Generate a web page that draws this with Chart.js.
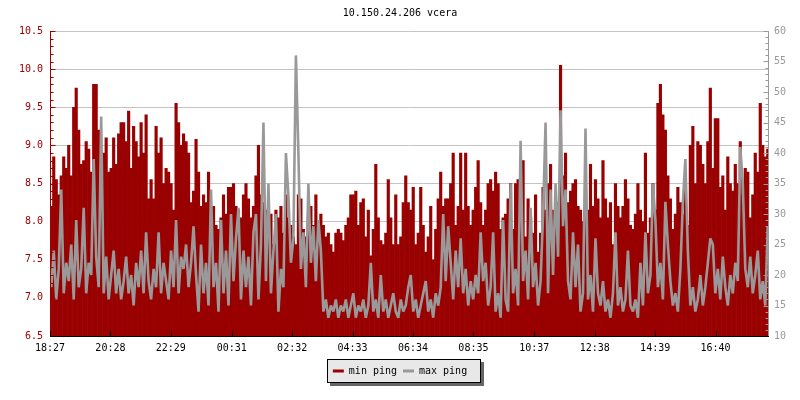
<!DOCTYPE html>
<html>
<head>
<meta charset="utf-8">
<script src="https://cdn.jsdelivr.net/npm/chart.js@4/dist/chart.umd.min.js"></script>
<style>
html,body{margin:0;padding:0;background:#fff;}
#wrap{width:800px;height:400px;position:relative;}
</style>
</head>
<body>
<div id="wrap"><canvas id="c" width="800" height="400"></canvas></div>
<script>
// ---------------- data ----------------
const chartTitle = "10.150.24.206 vcera";
const seriesNames = ["min ping", "max ping"];
const startTime = "18:27";
const sampleMinutes = 5;
const spanMinutes = 1440;
const timeTickLabels = ["18:27","20:28","22:29","00:31","02:32","04:33","06:34","08:35","10:37","12:38","14:39","16:40"];
const leftRange = [6.5, 10.5];
const rightRange = [10, 60];

// min ping (ms, left axis), one value per 5-minute sample
const minPing = [
  8.2, 8.85, 8.55, 8.35, 8.6, 8.85, 8.7, 9.0, 8.6, 9.5,
  9.75, 9.2, 8.75, 8.8, 9.05, 8.95, 8.65, 9.8, 9.8, 9.2,
  8.2, 8.9, 9.1, 8.65, 8.7, 9.1, 8.75, 9.15, 9.3, 9.3,
  9.05, 9.45, 8.7, 9.25, 9.05, 8.85, 9.3, 8.9, 9.4, 8.3,
  8.55, 8.3, 9.25, 8.9, 9.1, 8.5, 8.7, 8.65, 8.5, 8.15,
  9.55, 9.3, 9.0, 9.15, 9.05, 8.9, 8.25, 8.4,
  9.08, 8.65, 8.2, 8.35, 8.25, 8.65, 7.9, 8.2, 7.95, 7.9,
  8.05, 8.35, 8.1, 8.45, 8.45, 8.5, 8.2, 8.15, 8.05, 8.35,
  8.5, 8.3, 8.05, 8.2, 8.6, 9.0, 8.35, 8.25, 8.15, 7.95,
  8.1, 7.7, 8.15, 8.05, 8.2, 7.85, 8.35, 8.05, 7.95, 7.8,
  7.7, 8.35, 8.3, 7.9, 7.8, 8.05, 8.2, 7.95, 8.35, 7.9,
  8.1, 7.95, 7.8, 7.85, 7.7, 7.6, 7.85, 7.9, 7.85,
  7.75, 7.95, 8.05, 8.35, 8.35, 8.4, 7.95, 8.25, 8.3, 7.8,
  8.15, 7.55, 7.9, 8.75, 8.05, 7.75, 7.7, 7.85, 8.55, 8.05,
  7.7, 8.35, 7.7, 7.8, 8.25, 8.6, 8.25, 8.15, 8.45, 7.7,
  7.85, 8.45, 7.95, 7.6, 7.8, 8.2, 7.5, 7.9, 8.3, 8.65,
  8.2, 8.3, 8.3, 8.5, 8.9, 7.95, 8.2, 8.9, 8.15, 8.9,
  8.2, 7.95, 8.15, 8.45, 8.8, 8.25, 7.95, 8.15,
  8.5, 8.55, 8.4, 8.65, 8.5, 7.9, 8.05, 8.1, 8.3, 8.5,
  7.9, 8.5, 8.55, 8.35, 8.8, 7.8, 8.3, 8.05, 7.85, 8.35,
  7.6, 7.85, 8.45, 8.15, 8.5, 8.75, 8.15, 8.05, 8.25, 10.05,
  8.6, 8.9, 8.25, 8.4, 8.5, 8.55, 8.2, 8.15, 8.0, 8.45,
  8.15, 8.75, 8.2, 8.55, 8.3, 8.05, 8.8, 8.3, 8.05, 8.25,
  7.7, 8.5, 8.2, 8.05, 8.2, 8.55, 8.3, 7.95,
  7.9, 8.1, 8.5, 8.15, 8.0, 8.9, 7.85, 8.05, 8.5, 8.15,
  9.55, 9.8, 9.4, 9.2, 8.6, 8.3, 7.9, 8.1, 8.45, 8.25,
  8.1, 8.55, 7.95, 9.0, 9.25, 8.5, 9.05, 9.0, 8.75, 8.5,
  9.05, 9.75, 8.7, 9.35, 9.35, 8.45, 8.6, 8.15, 8.85, 8.5,
  8.4, 8.75, 8.5, 9.05, 8.35, 8.7, 8.65, 8.05, 8.35, 8.9,
  8.65, 9.55, 9.0, 8.85, 8.95
];

// max ping (ms, right axis)
const maxPing = [
  18, 24, 16, 21, 34, 17, 22, 19, 25, 16, 29, 18, 21, 31, 17, 22, 20, 39, 23, 18,
  46, 17, 23, 16, 20, 24, 17, 21, 16, 19, 23, 17, 20, 15, 22, 18, 24, 17, 27, 19,
  16, 21, 18, 27, 17, 22, 19, 16, 24, 18, 29, 17, 23, 21, 25, 18, 22, 28,
  20, 14, 25, 17, 22, 15, 34, 18, 22, 14, 29, 17, 24, 15, 30, 19, 26, 31, 16, 24,
  18, 23, 15, 27, 30, 16, 25, 45, 19, 35, 17, 24, 30, 14, 21, 18, 40, 33, 22, 26,
  56, 40, 21, 27, 18, 35, 22, 28, 19, 29, 24, 14, 16, 13, 15, 14, 16, 13, 15,
  14, 16, 13, 15, 17, 13, 15, 14, 16, 13, 15, 22, 14, 16, 13, 20, 14, 16, 13, 15,
  17, 14, 13, 16, 14, 15, 18, 20, 14, 16, 13, 15, 17, 19, 14, 16, 13, 17, 15, 18,
  30, 19, 28, 22, 16, 24, 18, 26, 17, 21, 15, 19, 16, 20, 17, 27, 19, 22,
  15, 18, 27, 14, 17, 13, 29, 16, 14, 35, 17, 21, 15, 42, 19, 24, 16, 31, 18, 22,
  15, 19, 30, 45, 17, 34, 20, 35, 23, 47, 28, 34, 19, 16, 27, 18, 25, 14, 17, 44,
  16, 20, 14, 26, 17, 15, 19, 14, 16, 13, 17, 27, 15, 18, 14, 16, 24, 15,
  14, 16, 13, 22, 15, 27, 17, 20, 35, 29, 18, 22, 16, 32, 25, 19, 15, 17, 14, 21,
  32, 39, 24, 15, 18, 14, 16, 20, 15, 18, 22, 26, 25, 17, 21, 16, 23, 18, 15, 20,
  17, 22, 19, 41, 35, 21, 18, 23, 17, 20, 24, 16, 19, 15, 28
];

// ---------------- styles ----------------
const FONT = "'DejaVu Sans Mono', 'Liberation Mono', monospace";
const RED = '#990000';
const RED_TEXT = '#a00000';
const GRAY = '#999999';
const GRID = '#c4c4c4';

function toMin(s){ const p = s.split(':'); return (+p[0])*60 + (+p[1]); }
const startMin = toMin(startTime);
const tickMinutes = timeTickLabels.map(l => (toMin(l) - startMin + 1440) % 1440);
const tickLabelByMinute = {};
tickMinutes.forEach((m, i) => tickLabelByMinute[m] = timeTickLabels[i]);

const minData = minPing.map((v, i) => ({x: i * sampleMinutes + sampleMinutes / 2, y: v}));
const maxData = maxPing.map((v, i) => ({x: i * sampleMinutes + sampleMinutes / 2, y: v}));

const isMajorLeft = v => Math.abs(v * 2 - Math.round(v * 2)) < 1e-6;
const isMajorRight = v => Math.abs(v / 5 - Math.round(v / 5)) < 1e-6;

const innerAxes = {
  id: 'innerAxes',
  afterDatasetsDraw(chart) {
    const {ctx, chartArea: a, scales} = chart;
    ctx.save();
    ctx.lineWidth = 1;
    const lx = Math.round(a.left) + 0.5;
    ctx.strokeStyle = RED_TEXT;
    ctx.beginPath();
    ctx.moveTo(lx, a.top); ctx.lineTo(lx, a.bottom);
    scales.y.ticks.forEach(t => {
      const py = Math.round(scales.y.getPixelForValue(t.value)) + 0.5;
      const len = isMajorLeft(t.value) ? 5 : 3;
      ctx.moveTo(lx, py); ctx.lineTo(lx + len, py);
    });
    ctx.stroke();
    const rx = Math.round(a.right) - 0.5;
    ctx.strokeStyle = GRAY;
    ctx.beginPath();
    ctx.moveTo(rx, a.top); ctx.lineTo(rx, a.bottom);
    scales.y2.ticks.forEach(t => {
      const py = Math.round(scales.y2.getPixelForValue(t.value)) + 0.5;
      const len = isMajorRight(t.value) ? 5 : 3;
      ctx.moveTo(rx, py); ctx.lineTo(rx - len, py);
    });
    ctx.stroke();
    const by = Math.round(a.bottom) + 0.5;
    ctx.strokeStyle = '#000';
    ctx.beginPath();
    ctx.moveTo(a.left, by); ctx.lineTo(a.right, by);
    scales.x.ticks.forEach(t => {
      const px = Math.round(scales.x.getPixelForValue(t.value)) + 0.5;
      ctx.moveTo(px, by); ctx.lineTo(px, by - 5);
    });
    ctx.stroke();
    ctx.restore();
  }
};

const legendBox = {
  id: 'legendBox',
  beforeDraw(chart) {
    const lg = chart.legend;
    if (!lg || !lg.legendHitBoxes || !lg.legendHitBoxes.length) return;
    const hb = lg.legendHitBoxes;
    let L = Infinity, R = -Infinity, T = Infinity, B = -Infinity;
    hb.forEach(h => { L = Math.min(L, h.left); R = Math.max(R, h.left + h.width); T = Math.min(T, h.top); B = Math.max(B, h.top + h.height); });
    const mid = (T + B) / 2;
    const x = Math.round(L - 6), y = Math.round(mid - 12), w = Math.round(R - L + 19), h = 23;
    const ctx = chart.ctx;
    ctx.save();
    ctx.fillStyle = '#666666';
    ctx.fillRect(x + 3, y + 3, w + 1, h + 1);
    ctx.fillStyle = '#e8e8e8';
    ctx.fillRect(x, y, w, h);
    ctx.strokeStyle = '#000';
    ctx.lineWidth = 1;
    ctx.strokeRect(x + 0.5, y + 0.5, w, h);
    ctx.restore();
  }
};

new Chart(document.getElementById('c'), {
  type: 'bar',
  data: {
    datasets: [
      {
        type: 'bar',
        label: seriesNames[0],
        data: minData,
        yAxisID: 'y',
        backgroundColor: RED,
        borderWidth: 0,
        barPercentage: 1,
        categoryPercentage: 1,
        order: 1
      },
      {
        type: 'line',
        label: seriesNames[1],
        data: maxData,
        yAxisID: 'y2',
        borderColor: GRAY,
        backgroundColor: GRAY,
        borderWidth: 2.6,
        borderJoinStyle: 'bevel',
        tension: 0,
        pointRadius: 0,
        fill: false,
        order: 0
      }
    ]
  },
  options: {
    responsive: false,
    animation: false,
    devicePixelRatio: 1,
    layout: { padding: { left: 0, right: 0, top: 0, bottom: 14 } },
    plugins: {
      tooltip: { enabled: false },
      title: {
        display: true,
        text: chartTitle,
        color: '#000',
        font: { family: FONT, size: 10, weight: 'normal' },
        padding: { top: 7, bottom: 12 }
      },
      legend: {
        position: 'bottom',
        labels: {
          font: { family: FONT, size: 10 },
          color: '#000',
          boxWidth: 11,
          boxHeight: 3,
          padding: 6,
          sort: (a, b) => a.datasetIndex - b.datasetIndex,
          generateLabels: (chart) => chart.data.datasets.map((ds, i) => ({
            text: ds.label,
            fillStyle: i === 0 ? RED : GRAY,
            strokeStyle: i === 0 ? RED : GRAY,
            lineWidth: 0,
            fontColor: '#000',
            hidden: false,
            datasetIndex: i
          }))
        }
      }
    },
    scales: {
      x: {
        type: 'linear',
        min: 0,
        max: spanMinutes,
        offset: false,
        grid: { display: false, drawTicks: false },
        border: { display: false },
        afterBuildTicks: (axis) => { axis.ticks = tickMinutes.map(v => ({ value: v })); },
        afterFit: (axis) => { axis.height = 24; },
        ticks: {
          autoSkip: false,
          maxRotation: 0,
          padding: 6,
          color: '#000',
          font: { family: FONT, size: 10 },
          callback: (v) => tickLabelByMinute[v] || ''
        }
      },
      y: {
        position: 'left',
        min: leftRange[0],
        max: leftRange[1],
        grid: {
          drawTicks: false,
          color: (c) => (c.tick && isMajorLeft(c.tick.value)) ? GRID : 'rgba(0,0,0,0)'
        },
        border: { display: false },
        afterFit: (axis) => { axis.width = 50; },
        ticks: {
          stepSize: 0.1,
          autoSkip: false,
          padding: 7,
          color: RED_TEXT,
          font: { family: FONT, size: 10 },
          callback: (v) => isMajorLeft(v) ? Number(v).toFixed(1) : ''
        }
      },
      y2: {
        position: 'right',
        min: rightRange[0],
        max: rightRange[1],
        grid: { drawOnChartArea: false, drawTicks: false },
        border: { display: false },
        afterFit: (axis) => { axis.width = 31; },
        ticks: {
          stepSize: 1,
          autoSkip: false,
          padding: 5,
          color: GRAY,
          font: { family: FONT, size: 10 },
          callback: (v) => isMajorRight(v) ? String(Math.round(v)) : ''
        }
      }
    }
  },
  plugins: [innerAxes, legendBox]
});
</script>
</body>
</html>
